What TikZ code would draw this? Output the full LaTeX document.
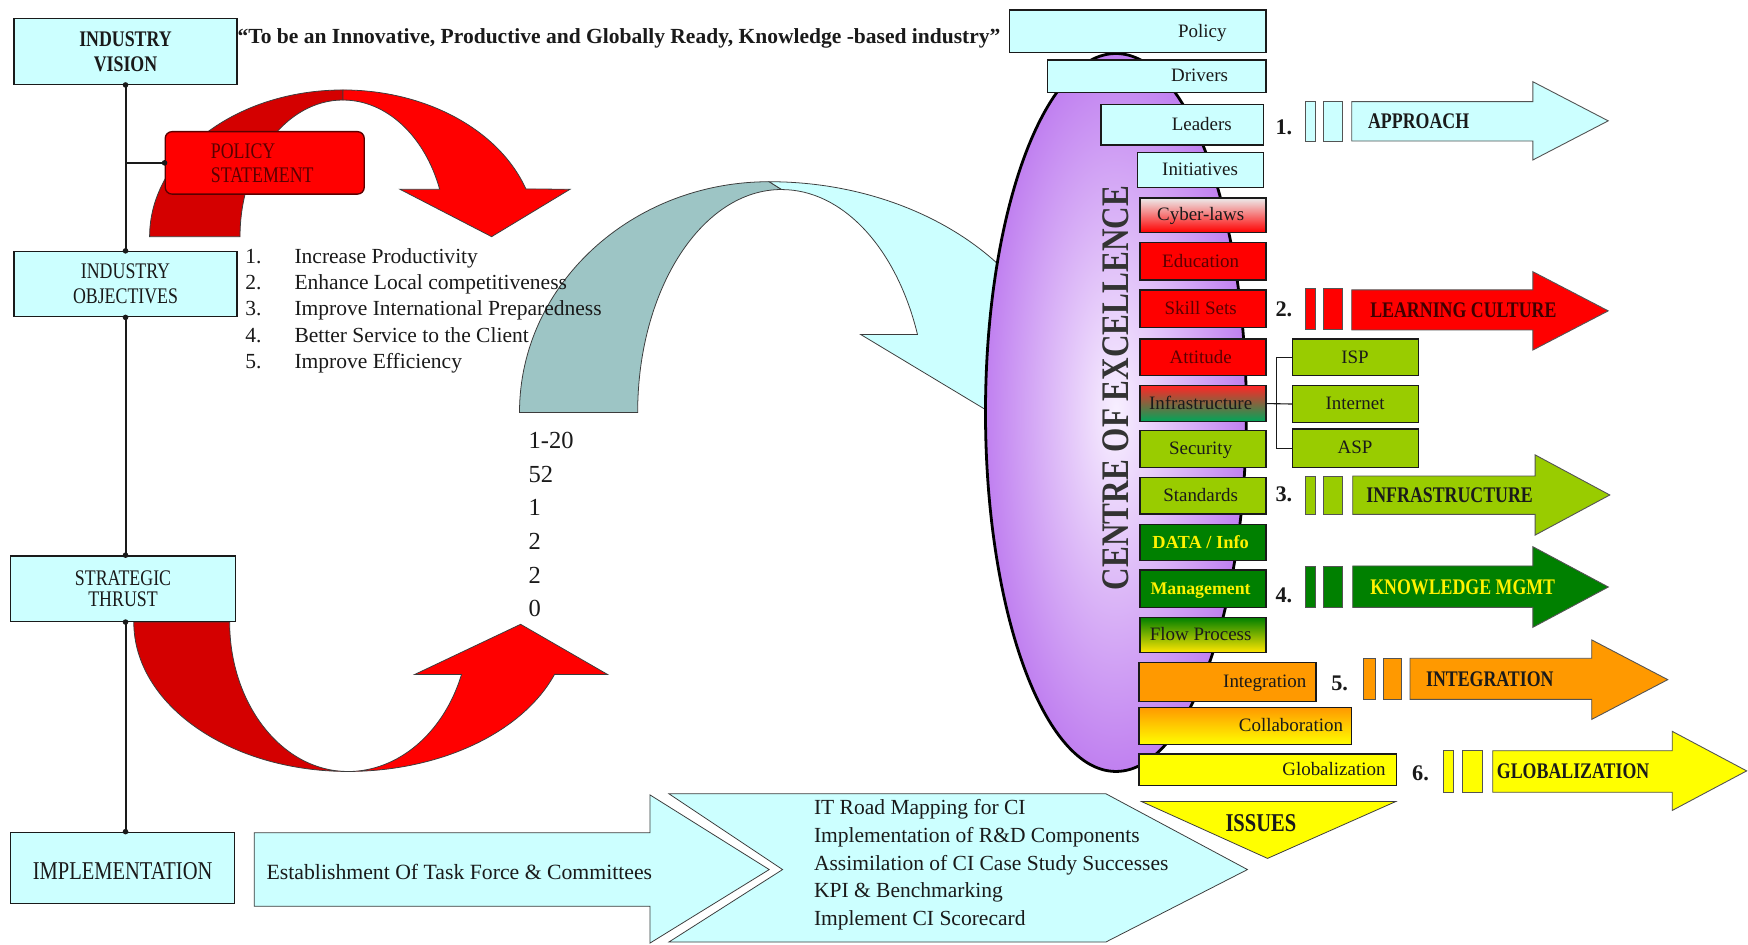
\documentclass[tikz,border=0pt]{standalone}
\usepackage{fontspec}
\setmainfont{Liberation Serif}
\newfontfamily\cnd[FakeStretch=0.8]{Liberation Serif}
\usetikzlibrary{shapes.geometric}

\definecolor{cyanl}{HTML}{CCFFFF}
\definecolor{tealb}{HTML}{9DC5C5}
\definecolor{redf}{HTML}{FF0000}
\definecolor{redb}{HTML}{D40000}
\definecolor{lgreen}{HTML}{99CC00}
\definecolor{dgreen}{HTML}{008000}
\definecolor{orng}{HTML}{FF9900}
\definecolor{yel}{HTML}{FFFF00}
\definecolor{purp}{HTML}{C080F0}
\definecolor{purpl}{HTML}{F8F0FF}
\definecolor{maroon}{HTML}{5A0000}
\definecolor{ink}{HTML}{1A1A1A}

\newcommand{\fsz}[1]{\fontsize{#1}{#1}\selectfont}
\newcommand{\mkbox}[6]{\node[#6,anchor=north west,inner sep=0pt,minimum width={(#4-#2)*1pt},minimum height={(#5-#3)*1pt}] (#1) at (#2,#3) {};}
\newcommand{\blockarrow}[8]{\path[#8] (#1,#2) -- (#4,#2) -- (#4,#5) -- (#7,{(#5+#6)/2}) -- (#4,#6) -- (#4,#3) -- (#1,#3) -- cycle;}

\tikzset{
  bx/.style={draw=ink, line width=1.2pt},
  lbx/.style={bx, fill=cyanl},
  conn/.style={draw=ink, line width=1.8pt},
  shp/.style={draw=ink!85, line width=0.7pt},
  arr/.style={draw=ink!75, line width=0.8pt},
  tx/.style={inner sep=0pt, text=ink},
  rtxt/.style={tx, anchor=base, font=\fsz{17}},
  atxt/.style={tx, anchor=west, font=\cnd\bfseries\fsz{20}},
  numt/.style={tx, anchor=base west, font=\bfseries\fsz{20}},
  dot/.style={circle, fill=ink, inner sep=0pt, minimum size=5pt}
}

\begin{document}
\begin{tikzpicture}[x=1pt,y=-1pt]
\useasboundingbox (0,0) rectangle (1568,847);
\fill[white] (0,0) rectangle (1568,847);

% ---------- teal curved arrow (behind oval)
\path[shp, fill=tealb] (466,370) arc[start angle=180,end angle=270,x radius=224,y radius=207]
  -- (701,170) arc[start angle=270,end angle=180,x radius=129,y radius=200] -- cycle;
\path[shp, fill=cyanl] (690,163) arc[start angle=270,end angle=340.2,x radius=268,y radius=207]
  -- (993,300) -- (885,368) -- (772,300) -- (823,300)
  arc[start angle=339.5,end angle=270,x radius=130,y radius=200] -- cycle;

% ---------- centre of excellence oval
\node[ellipse, draw=black, line width=2.5pt, inner color=purpl, outer color=purp,
      minimum width=234pt, minimum height=644pt, inner sep=0pt] (coe) at (1001,370) {};
\node[tx, rotate=90, font=\cnd\bfseries\fsz{35}, text=black!80] (coet) at (1001,348) {CENTRE OF EXCELLENCE};

% ---------- upper red curved arrow (elliptic ring, thin at the top)
\path[shp, fill=redb] (134.2,212.3) arc[start angle=180,end angle=270,x radius=173.5,y radius=131.6]
  -- (307.7,89.7) arc[start angle=270,end angle=180,x radius=92.4,y radius=122.6] -- cycle;
\path[shp, fill=redf] (307.7,80.7) arc[start angle=270,end angle=341,x radius=173.5,y radius=131.6]
  -- (511.3,169.8) -- (441,212.3) -- (358.8,169.8) -- (394.4,169.8)
  arc[start angle=339.7,end angle=270,x radius=92.4,y radius=122.6] -- cycle;

% ---------- lower red curved arrow
\path[shp, fill=redb] (120,558) arc[start angle=180,end angle=90,x radius=192,y radius=134]
  arc[start angle=90,end angle=180,x radius=106,y radius=134] -- cycle;
\path[shp, fill=redf] (312,692) arc[start angle=90,end angle=20.5,x radius=198,y radius=134]
  -- (545,605) -- (467,560) -- (372,605) -- (414,605)
  arc[start angle=20.5,end angle=90,x radius=109,y radius=134] -- cycle;

% ---------- left column
\mkbox{vis}{12}{16}{212}{75}{lbx}
\mkbox{obj}{12}{225}{212}{283.5}{lbx}
\mkbox{str}{9}{498}{210.5}{556.8}{lbx}
\mkbox{impl}{9}{746}{210}{809.7}{lbx}
\node[bx, fill=redf, draw=maroon, rounded corners=6pt, anchor=north west, inner sep=0pt,
      minimum width=178.5pt, minimum height=56pt] (pol) at (147.6,117.5) {};
\node[tx, anchor=west, align=left, text=maroon, font=\cnd\fontsize{20}{21.5}\selectfont] (polt) at (189,146) {POLICY\\STATEMENT};

\draw[conn] (vis.south) -- (vis.south |- obj.north);
\draw[conn] (obj.south) -- (obj.south |- str.north);
\draw[conn] (obj.south |- str.south) -- (obj.south |- impl.north);
\draw[conn] (vis.south |- pol.west) -- (pol.west);
\foreach \p in {(vis.south), (vis.south |- obj.north), (obj.south), (obj.south |- str.north), (obj.south |- str.south), (obj.south |- impl.north), (pol.west)}
  \node[dot] at \p {};

\node[tx, align=center, font=\cnd\bfseries\fontsize{20}{22.4}\selectfont] (vist) at (vis.center) {INDUSTRY\\VISION};
\node[tx, align=center, font=\cnd\fontsize{20}{22.4}\selectfont] (objt) at (obj.center) {INDUSTRY\\OBJECTIVES};
\node[tx, align=center, font=\cnd\fontsize{20}{19.5}\selectfont] (strt) at (str.center) {STRATEGIC\\THRUST};
\node[tx, anchor=base, font=\cnd\fsz{23}] (implt) at (110,788.8) {IMPLEMENTATION};

\node[tx, anchor=base west, font=\bfseries\fsz{19.3}] (quote) at (213,38.9)
  {“To be an Innovative, Productive and Globally Ready, Knowledge -based industry”};

\foreach \t [count=\k from 0] in {Increase Productivity, Enhance Local competitiveness, Improve International Preparedness, Better Service to the Client, Improve Efficiency} {
  \pgfmathtruncatemacro{\n}{\k+1}
  \node[tx, anchor=base west, font=\fsz{19.3}] (ln\k) at (220,{236+23.7*\k}) {\n.};
  \node[tx, anchor=base west, font=\fsz{19.3}] (lt\k) at (264,{236+23.7*\k}) {\t};
}

\foreach \t [count=\k from 0] in {1-20,52,1,2,2,0}
  \node[tx, anchor=base west, font=\fsz{22}] (yr\k) at (474,{402.2+30.2*\k}) {\t};

% ---------- bottom chevrons
\path[shp, fill=cyanl] (228,747) -- (583,747) -- (583,713) -- (690,780) -- (583,846) -- (583,813) -- (228,813) -- cycle;
\node[tx, anchor=base west, font=\fsz{19.5}] (estab) at (239,788.8) {Establishment Of Task Force \& Committees};
\path[shp, fill=cyanl] (600,712) -- (992,712) -- (1119,780) -- (992,845) -- (600,845) -- (702,780) -- cycle;
\foreach \t [count=\k from 0] in {IT Road Mapping for CI, Implementation of R\&D Components, Assimilation of CI Case Study Successes, KPI \& Benchmarking, Implement CI Scorecard}
  \node[tx, anchor=base west, font=\fsz{19.3}] (ci\k) at (730,{731+24.75*\k}) {\t};

% ---------- right column boxes
\mkbox{policy}{905}{8.4}{1135}{46.3}{lbx}
\mkbox{drivers}{939}{53.2}{1135}{82.2}{lbx}
\mkbox{leaders}{987}{93.3}{1133}{129.5}{lbx}
\mkbox{init}{1020}{136}{1133}{167.5}{lbx}
\mkbox{cyber}{1022}{177}{1135}{207.8}{bx, top color=gray!15, bottom color=redf}
\mkbox{edu}{1022}{216.8}{1135}{250.6}{bx, fill=redf}
\mkbox{skill}{1022}{259.5}{1135}{293}{bx, fill=redf}
\mkbox{att}{1022}{303.5}{1135}{336.4}{bx, fill=redf}
\mkbox{infra}{1022}{345.4}{1135}{377.4}{bx, top color=redf!85, bottom color=teal!70!green}
\mkbox{sec}{1022}{385.7}{1135}{418.6}{bx, fill=lgreen}
\mkbox{std}{1022}{427.6}{1135}{460.5}{bx, fill=lgreen}
\mkbox{data}{1022}{470}{1135}{502.3}{bx, fill=dgreen}
\mkbox{mgmt}{1022}{510.7}{1135}{544.2}{bx, fill=dgreen}
\mkbox{flow}{1022}{553.2}{1135}{584.6}{bx, top color=green!50!black, bottom color=yellow!80!orange}
\mkbox{integ}{1021}{593.5}{1180}{628.8}{bx, fill=orng}
\mkbox{collab}{1021}{634}{1212}{667.4}{bx, top color=orng, bottom color=yel}
\mkbox{glob}{1021}{675.8}{1252}{704.2}{bx, fill=yel}
\mkbox{isp}{1159}{303.5}{1272}{336.4}{bx, fill=lgreen}
\mkbox{inet}{1159}{345.4}{1272}{378.2}{bx, fill=lgreen}
\mkbox{asp}{1159}{384.2}{1272}{418.6}{bx, fill=lgreen}

\draw[draw=ink, line width=1pt] (infra.east) -- (inet.west);
\draw[draw=ink, line width=1pt] (isp.west) -- ++(-14,0) |- (asp.west);

\node[rtxt] (policyt) at (1078.5,33.2) {Policy};
\node[rtxt] (driverst) at (1076,73.5) {Drivers};
\node[rtxt] (leaderst) at (1078,117.2) {Leaders};
\node[rtxt] (initt) at (1076.5,157.5) {Initiatives};
\node[rtxt] (cybert) at (1077,198.2) {Cyber-laws};
\node[rtxt, text=maroon] (edut) at (1077,239.5) {Education};
\node[rtxt, text=maroon] (skillt) at (1077,282) {Skill Sets};
\node[rtxt, text=maroon] (attt) at (1077,325.8) {Attitude};
\node[rtxt] (infrat) at (1077,367.2) {Infrastructure};
\node[rtxt] (sect) at (1077,408) {Security};
\node[rtxt] (stdt) at (1077,449.9) {Standards};
\node[rtxt, text=yellow, font=\bfseries\fsz{16.5}] (datat) at (1077,491.6) {DATA / Info};
\node[rtxt, text=yellow, font=\bfseries\fsz{16}] (mgmtt) at (1077,533) {Management};
\node[rtxt] (flowt) at (1077,574.7) {Flow Process};
\node[rtxt, anchor=base east] (integt) at (1172,617) {Integration};
\node[rtxt, anchor=base east] (collabt) at (1205,656.5) {Collaboration};
\node[rtxt, anchor=base east] (globt) at (1243,695.8) {Globalization};
\node[rtxt] (ispt) at (1215.5,325.8) {ISP};
\node[rtxt] (inett) at (1215.5,367.6) {Internet};
\node[rtxt] (aspt) at (1215.5,407.2) {ASP};

% ---------- ISSUES
\path[shp, fill=yel] (1024,719) -- (1252,719) -- (1137,770) -- cycle;
\node[tx, font=\cnd\bfseries\fsz{23}] (issuest) at (1131,738.5) {ISSUES};

% ---------- right arrows
\node[numt] (n1) at (1144,121) {1.};
\path[arr, fill=cyanl] (1170.6,91) rectangle (1180,127);
\path[arr, fill=cyanl] (1187,91) rectangle (1204,127);
\blockarrow{1212.5}{91.2}{126.5}{1375}{73.3}{143.5}{1442.6}{arr, fill=cyanl}
\node[atxt] (a1) at (1227,109) {APPROACH};

\node[numt] (n2) at (1144,284) {2.};
\path[arr, fill=redf] (1170.6,258.6) rectangle (1180,295.4);
\path[arr, fill=redf] (1187,258.6) rectangle (1204,295.4);
\blockarrow{1212.5}{260}{296}{1375}{243.7}{314}{1442.6}{arr, fill=redf}
\node[atxt, text=maroon!70!black] (a2) at (1229,278) {LEARNING CULTURE};

\node[numt] (n3) at (1144,450) {3.};
\path[arr, fill=lgreen] (1170.6,427) rectangle (1180,461.4);
\path[arr, fill=lgreen] (1187,427) rectangle (1204,461.4);
\blockarrow{1213.4}{427}{461.4}{1377}{408}{480}{1444}{arr, fill=lgreen}
\node[atxt] (a3) at (1225.5,444.2) {INFRASTRUCTURE};

\node[numt] (n4) at (1144,540) {4.};
\path[arr, fill=dgreen] (1170.6,507.7) rectangle (1180,544.8);
\path[arr, fill=dgreen] (1187,507.7) rectangle (1204,544.8);
\blockarrow{1213.4}{507.7}{544.8}{1375}{490.4}{562.7}{1442.7}{arr, fill=dgreen}
\node[atxt, text=yellow] (a4) at (1229,526.5) {KNOWLEDGE MGMT};

\node[numt] (n5) at (1194,619) {5.};
\path[arr, fill=orng] (1222.6,590.5) rectangle (1233.4,627.3);
\path[arr, fill=orng] (1240.6,590.5) rectangle (1257.3,627.3);
\blockarrow{1264.8}{590.5}{627.3}{1427.8}{574}{645.3}{1496}{arr, fill=orng}
\node[atxt] (a5) at (1279,609) {INTEGRATION};

\node[numt] (n6) at (1266.6,700) {6.};
\path[arr, fill=yel] (1295,673.4) rectangle (1303.6,710.7);
\path[arr, fill=yel] (1312,673.4) rectangle (1329.6,710.7);
\blockarrow{1339}{673.4}{710.7}{1500}{656}{727}{1566.8}{arr, fill=yel}
\node[atxt] (a6) at (1342.6,692) {GLOBALIZATION};
\end{tikzpicture}
\end{document}
